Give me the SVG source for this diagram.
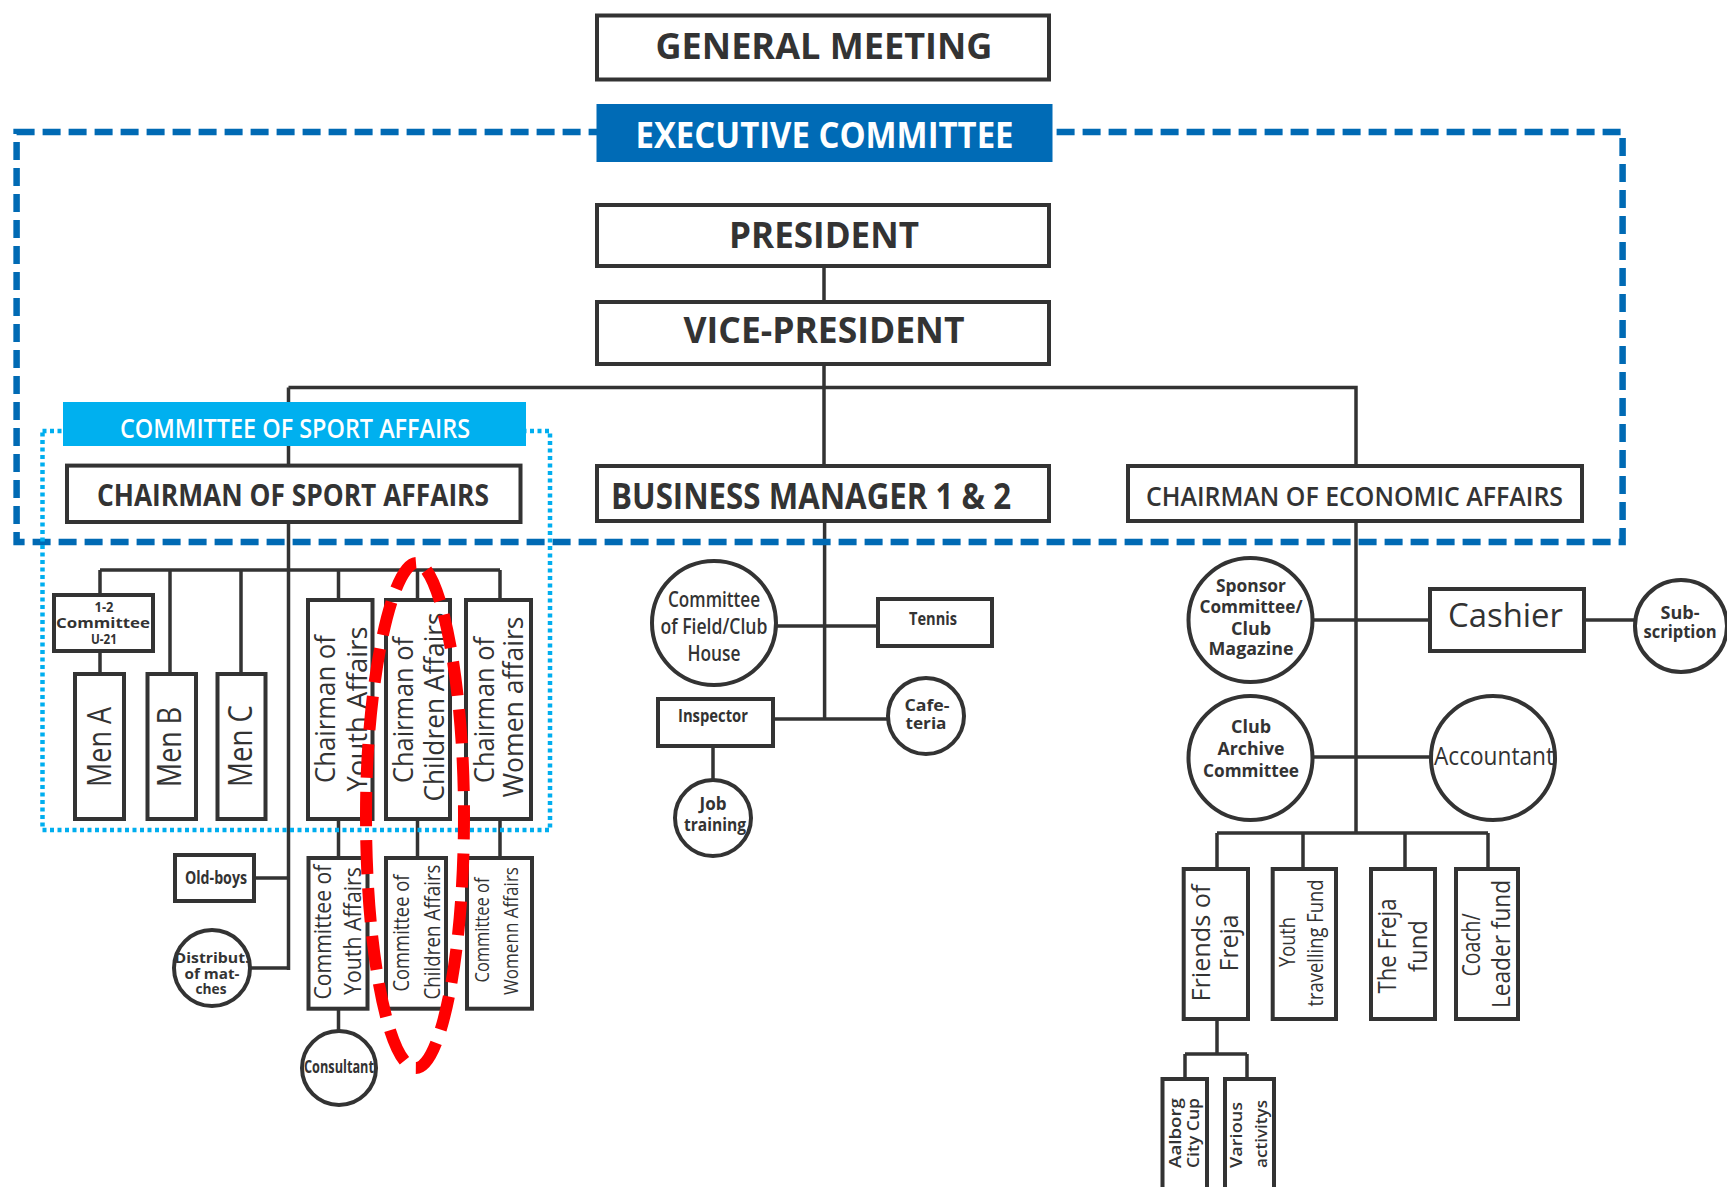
<svg xmlns="http://www.w3.org/2000/svg" width="1727" height="1187" viewBox="0 0 1727 1187">
<style>
.box{fill:#fff;stroke:#333;stroke-width:4}
.ln{stroke:#333;stroke-width:3.5;fill:none}
.t{font-family:"Open Sans","Liberation Sans",sans-serif;fill:#333;text-anchor:middle}
.b{font-weight:700}
.sb{font-weight:600}
.w{fill:#fff}
</style>
<rect width="1727" height="1187" fill="#fff"/>
<g id="connectors">
<path class="ln" d="M824,268V302 M824,366V466 M288.5,387.5H1356V466 M288.5,387.5V465.6"/>
<path class="ln" d="M288.5,524V970 M100,570H500 M100,570V595 M100,651V674 M170,570V674 M241,570V674 M338.5,570V600 M417.5,570V600 M500,570V600 M338.5,819V858 M417.5,819V858 M500,819V858 M254,878H288.5 M250,968H288.5 M338.5,1009V1031"/>
<path class="ln" d="M824.6,521V719 M776,626H878 M773,719H888 M713,746V780"/>
<path class="ln" d="M1356,521V833 M1312,620H1430 M1584,620H1635 M1312,757H1431 M1217,833H1488 M1217,833V869 M1303,833V869 M1405,833V869 M1488,833V869 M1217,1019V1054 M1185,1054H1247 M1185,1054V1079 M1247,1054V1079"/>
</g>
<g id="general-meeting"><rect class="box" x="597" y="15.5" width="452" height="64"/><text class="t b" x="824" y="59" font-size="35" textLength="337" lengthAdjust="spacingAndGlyphs">GENERAL MEETING</text></g>
<g id="president"><rect class="box" x="597" y="205" width="452" height="61"/><text class="t b" x="824" y="248" font-size="35" textLength="190" lengthAdjust="spacingAndGlyphs">PRESIDENT</text></g>
<g id="vice-president"><rect class="box" x="597" y="302" width="452" height="62"/><text class="t b" x="824" y="343" font-size="35" textLength="281" lengthAdjust="spacingAndGlyphs">VICE-PRESIDENT</text></g>
<g id="business-manager"><rect class="box" x="597" y="466" width="452" height="55"/><text class="t b" x="811" y="509" font-size="35" textLength="400" lengthAdjust="spacingAndGlyphs">BUSINESS MANAGER 1 &amp; 2</text></g>
<g id="chairman-economic"><rect class="box" x="1128" y="466" width="454" height="55"/><text class="t sb" x="1354.5" y="506" font-size="27" textLength="417" lengthAdjust="spacingAndGlyphs">CHAIRMAN OF ECONOMIC AFFAIRS</text></g>
<g id="chairman-sport"><rect class="box" x="67" y="465.6" width="453.5" height="56.4"/><text class="t b" x="293" y="506" font-size="31" textLength="392" lengthAdjust="spacingAndGlyphs">CHAIRMAN OF SPORT AFFAIRS</text></g>
<g id="u21"><rect class="box" x="54" y="595" width="99" height="56"/>
<text class="t b" x="104" y="612" font-size="15" textLength="19" lengthAdjust="spacingAndGlyphs">1-2</text>
<text class="t b" x="103" y="628" font-size="15" textLength="94" lengthAdjust="spacingAndGlyphs">Committee</text>
<text class="t b" x="104" y="644" font-size="15" textLength="26" lengthAdjust="spacingAndGlyphs">U-21</text></g>
<g id="men-a"><rect class="box" x="75" y="674" width="49" height="145"/><text class="t" transform="translate(111,747) rotate(-90)" font-size="32" textLength="80" lengthAdjust="spacingAndGlyphs">Men A</text></g>
<g id="men-b"><rect class="box" x="147.5" y="674" width="48.5" height="145"/><text class="t" transform="translate(181,747) rotate(-90)" font-size="32" textLength="80" lengthAdjust="spacingAndGlyphs">Men B</text></g>
<g id="men-c"><rect class="box" x="217.5" y="674" width="48" height="145"/><text class="t" transform="translate(252,746) rotate(-90)" font-size="32" textLength="82" lengthAdjust="spacingAndGlyphs">Men C</text></g>
<g id="chairman-youth"><rect class="box" x="308" y="600" width="64.5" height="219"/>
<text class="t" transform="translate(335,709) rotate(-90)" font-size="28" textLength="148" lengthAdjust="spacingAndGlyphs">Chairman of</text>
<text class="t" transform="translate(367,709) rotate(-90)" font-size="28" textLength="165" lengthAdjust="spacingAndGlyphs">Youth Affairs</text></g>
<g id="chairman-children"><rect class="box" x="386" y="600" width="64" height="219"/>
<text class="t" transform="translate(413,710) rotate(-90)" font-size="28" textLength="146" lengthAdjust="spacingAndGlyphs">Chairman of</text>
<text class="t" transform="translate(444,707) rotate(-90)" font-size="28" textLength="189" lengthAdjust="spacingAndGlyphs">Children Affairs</text></g>
<g id="chairman-women"><rect class="box" x="466" y="600" width="65" height="219"/>
<text class="t" transform="translate(494,710) rotate(-90)" font-size="28" textLength="146" lengthAdjust="spacingAndGlyphs">Chairman of</text>
<text class="t" transform="translate(523,707) rotate(-90)" font-size="28" textLength="181" lengthAdjust="spacingAndGlyphs">Women affairs</text></g>
<g id="committee-youth"><rect class="box" x="308.5" y="858" width="59" height="150.7"/>
<text class="t" transform="translate(331,932) rotate(-90)" font-size="23" textLength="135" lengthAdjust="spacingAndGlyphs">Committee of</text>
<text class="t" transform="translate(361,931) rotate(-90)" font-size="23" textLength="128" lengthAdjust="spacingAndGlyphs">Youth Affairs</text></g>
<g id="committee-children"><rect class="box" x="386" y="858" width="60" height="150.7"/>
<text class="t" transform="translate(409,933) rotate(-90)" font-size="21" textLength="117" lengthAdjust="spacingAndGlyphs">Committee of</text>
<text class="t" transform="translate(440,932) rotate(-90)" font-size="21" textLength="135" lengthAdjust="spacingAndGlyphs">Children Affairs</text></g>
<g id="committee-women"><rect class="box" x="467" y="858" width="65" height="150.7"/>
<text class="t" transform="translate(489,930) rotate(-90)" font-size="20" textLength="105" lengthAdjust="spacingAndGlyphs">Committee of</text>
<text class="t" transform="translate(518,931) rotate(-90)" font-size="20" textLength="128" lengthAdjust="spacingAndGlyphs">Womenn Affairs</text></g>
<g id="old-boys"><rect class="box" x="175" y="855" width="79" height="46"/><text class="t b" x="216" y="884" font-size="17" textLength="62" lengthAdjust="spacingAndGlyphs">Old-boys</text></g>
<g id="distribution"><circle class="box" cx="212" cy="968" r="38"/>
<text class="t b" x="212" y="963" font-size="14" textLength="75" lengthAdjust="spacingAndGlyphs">Distribut.</text>
<text class="t b" x="212" y="979" font-size="14" textLength="55" lengthAdjust="spacingAndGlyphs">of mat-</text>
<text class="t b" x="211" y="994" font-size="14" textLength="31" lengthAdjust="spacingAndGlyphs">ches</text></g>
<g id="consultant"><circle class="box" cx="339" cy="1068" r="37"/><text class="t b" x="339" y="1073" font-size="17" textLength="70" lengthAdjust="spacingAndGlyphs">Consultant</text></g>
<g id="field-club"><circle class="box" cx="714" cy="623" r="62"/>
<text class="t sb" x="714" y="607" font-size="21" textLength="92" lengthAdjust="spacingAndGlyphs">Committee</text>
<text class="t sb" x="714" y="634" font-size="21" textLength="107" lengthAdjust="spacingAndGlyphs">of Field/Club</text>
<text class="t sb" x="714" y="661" font-size="21" textLength="53" lengthAdjust="spacingAndGlyphs">House</text></g>
<g id="tennis"><rect class="box" x="878" y="599" width="114" height="47"/><text class="t b" x="933" y="625" font-size="17" textLength="48" lengthAdjust="spacingAndGlyphs">Tennis</text></g>
<g id="inspector"><rect class="box" x="658" y="699" width="115" height="47"/><text class="t b" x="713" y="722" font-size="17" textLength="70" lengthAdjust="spacingAndGlyphs">Inspector</text></g>
<g id="cafeteria"><circle class="box" cx="926" cy="716" r="38"/>
<text class="t b" x="927" y="711" font-size="16" textLength="45" lengthAdjust="spacingAndGlyphs">Cafe-</text>
<text class="t b" x="926" y="729" font-size="16" textLength="41" lengthAdjust="spacingAndGlyphs">teria</text></g>
<g id="job-training"><circle class="box" cx="713" cy="818" r="38"/>
<text class="t b" x="713" y="810" font-size="18" textLength="27" lengthAdjust="spacingAndGlyphs">Job</text>
<text class="t b" x="715" y="831" font-size="18" textLength="62" lengthAdjust="spacingAndGlyphs">training</text></g>
<g id="sponsor"><circle class="box" cx="1250.5" cy="620" r="62"/>
<text class="t b" x="1251" y="592" font-size="17" textLength="70" lengthAdjust="spacingAndGlyphs">Sponsor</text>
<text class="t b" x="1251" y="613" font-size="17" textLength="103" lengthAdjust="spacingAndGlyphs">Committee/</text>
<text class="t b" x="1251" y="635" font-size="17" textLength="40" lengthAdjust="spacingAndGlyphs">Club</text>
<text class="t b" x="1251" y="655" font-size="17" textLength="85" lengthAdjust="spacingAndGlyphs">Magazine</text></g>
<g id="cashier"><rect class="box" x="1430" y="589" width="154" height="62"/><text class="t" x="1505.5" y="627" font-size="33" textLength="115" lengthAdjust="spacingAndGlyphs">Cashier</text></g>
<g id="subscription"><circle class="box" cx="1681" cy="626" r="46"/>
<text class="t b" x="1680" y="619" font-size="18" textLength="39" lengthAdjust="spacingAndGlyphs">Sub-</text>
<text class="t b" x="1680" y="638" font-size="18" textLength="73" lengthAdjust="spacingAndGlyphs">scription</text></g>
<g id="club-archive"><circle class="box" cx="1250.5" cy="758" r="62"/>
<text class="t b" x="1251" y="733" font-size="17" textLength="40" lengthAdjust="spacingAndGlyphs">Club</text>
<text class="t b" x="1251" y="755" font-size="17" textLength="67" lengthAdjust="spacingAndGlyphs">Archive</text>
<text class="t b" x="1251" y="777" font-size="17" textLength="96" lengthAdjust="spacingAndGlyphs">Committee</text></g>
<g id="accountant"><circle class="box" cx="1493" cy="758" r="62"/><text class="t" x="1494" y="765" font-size="26" textLength="120" lengthAdjust="spacingAndGlyphs">Accountant</text></g>
<g id="friends-of-freja"><rect class="box" x="1183.7" y="869" width="64.3" height="150"/>
<text class="t" transform="translate(1210,943) rotate(-90)" font-size="25" textLength="117" lengthAdjust="spacingAndGlyphs">Friends of</text>
<text class="t" transform="translate(1238,943) rotate(-90)" font-size="25" textLength="57" lengthAdjust="spacingAndGlyphs">Freja</text></g>
<g id="youth-travelling"><rect class="box" x="1272.7" y="869" width="63.3" height="150"/>
<text class="t" transform="translate(1295,942) rotate(-90)" font-size="21" textLength="50" lengthAdjust="spacingAndGlyphs">Youth</text>
<text class="t" transform="translate(1323,943) rotate(-90)" font-size="21" textLength="127" lengthAdjust="spacingAndGlyphs">travelling Fund</text></g>
<g id="freja-fund"><rect class="box" x="1371" y="869" width="64" height="150"/>
<text class="t" transform="translate(1396,946) rotate(-90)" font-size="25" textLength="95" lengthAdjust="spacingAndGlyphs">The Freja</text>
<text class="t" transform="translate(1427,946) rotate(-90)" font-size="25" textLength="52" lengthAdjust="spacingAndGlyphs">fund</text></g>
<g id="coach-leader"><rect class="box" x="1456" y="869" width="62" height="150"/>
<text class="t" transform="translate(1480,945) rotate(-90)" font-size="25" textLength="63" lengthAdjust="spacingAndGlyphs">Coach/</text>
<text class="t" transform="translate(1510,944) rotate(-90)" font-size="25" textLength="128" lengthAdjust="spacingAndGlyphs">Leader fund</text></g>
<g id="aalborg-city-cup"><rect class="box" x="1162.5" y="1079" width="44.5" height="130"/>
<text class="t sb" transform="translate(1181,1133) rotate(-90)" font-size="16" textLength="70" lengthAdjust="spacingAndGlyphs">Aalborg</text>
<text class="t sb" transform="translate(1199,1133) rotate(-90)" font-size="16" textLength="70" lengthAdjust="spacingAndGlyphs">City Cup</text></g>
<g id="various-activitys"><rect class="box" x="1225" y="1079" width="49" height="130"/>
<text class="t sb" transform="translate(1242,1135) rotate(-90)" font-size="17" textLength="66" lengthAdjust="spacingAndGlyphs">Various</text>
<text class="t sb" transform="translate(1267,1134) rotate(-90)" font-size="17" textLength="68" lengthAdjust="spacingAndGlyphs">activitys</text></g>
<g id="executive-frame"><rect x="16.6" y="132" width="1606" height="410" fill="none" stroke="#006ab4" stroke-width="6.5" stroke-dasharray="18 8"/></g>
<g id="sport-frame"><rect x="42.5" y="431" width="507.5" height="399" fill="none" stroke="#00aeef" stroke-width="4.5" stroke-dasharray="4 3.5"/></g>
<g id="executive-committee"><rect x="596.5" y="104" width="456" height="58" fill="#006bb6"/><text class="t b w" x="824.5" y="148" font-size="35" textLength="378" lengthAdjust="spacingAndGlyphs">EXECUTIVE COMMITTEE</text></g>
<g id="committee-sport"><rect x="63" y="402" width="463" height="44" fill="#00b0ef"/><text class="t sb w" x="295" y="437.5" font-size="27" textLength="350" lengthAdjust="spacingAndGlyphs">COMMITTEE OF SPORT AFFAIRS</text></g>
<g id="highlight"><path d="M416,563 C392,565 366,680 366,815 C366,960 390,1068 416,1068 C440,1068 464,960 464,815 C464,680 440,563 416,563 Z" fill="none" stroke="#ff0000" stroke-width="12" stroke-dasharray="34 14"/></g>
</svg>
